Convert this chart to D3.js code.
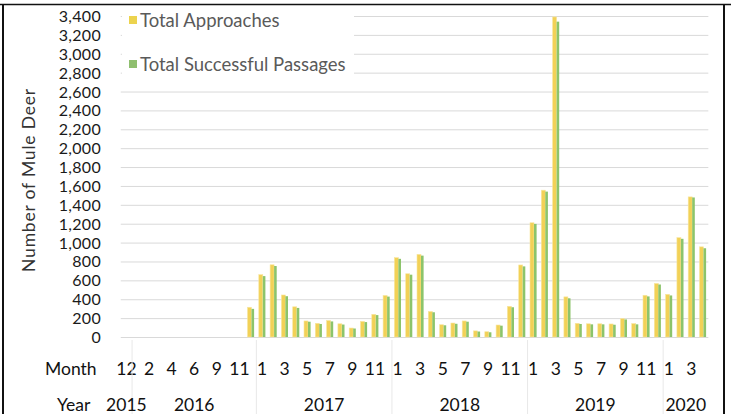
<!DOCTYPE html>
<html><head><meta charset="utf-8">
<script src="https://cdn.jsdelivr.net/npm/d3@7"></script>
<style>body{margin:0;background:#fff}svg{display:block}text{font-family:Lato,"Open Sans",sans-serif}</style>
</head><body><svg id="c" width="731" height="414"></svg>
<script>
// Categories: Dec 2015 .. Apr 2020 (Aug 2016 absent)
const monthLabels = ["12","1","2","3","4","5","6","7","9","10","11","12",
  "1","2","3","4","5","6","7","8","9","10","11","12",
  "1","2","3","4","5","6","7","8","9","10","11","12",
  "1","2","3","4","5","6","7","8","9","10","11","12",
  "1","2","3","4"];
const yearLabels = ["2015","2016","2017","2018","2019","2020"];
const yearCounts = [1, 11, 12, 12, 12, 4];
const approaches = [0,0,0,0,0,0,0,0,0,0,0,315,
  660,765,445,320,170,145,175,140,95,165,240,440,
  840,670,875,270,130,148,170,65,56,127,325,763,
  1210,1555,3390,425,145,140,140,138,195,142,442,567,
  452,1052,1484,955];
const passages = [0,0,0,0,0,0,0,0,0,0,0,298,
  645,752,432,308,162,138,165,132,90,158,232,428,
  828,660,862,262,124,140,162,58,50,120,315,748,
  1198,1540,3340,410,138,134,134,130,186,134,430,556,
  440,1040,1478,940];
const yTicks = d3.range(0, 3401, 200);

const svg = d3.select("#c");
const idx = d3.range(monthLabels.length);
const x = d3.scaleBand().domain(idx).range([120.75, 708.35]).padding(0);
const y = d3.scaleLinear().domain([0, 3400]).range([337, 16]);
const bw = x.bandwidth();
const cx = i => x(i) + bw / 2;

// frame
svg.append("line").attr("x1",0).attr("x2",731).attr("y1",4.5).attr("y2",4.5).attr("stroke","#111").attr("stroke-width",1.5);
svg.append("line").attr("x1",3).attr("x2",3).attr("y1",4).attr("y2",414).attr("stroke","#111").attr("stroke-width",2);
svg.append("line").attr("x1",724).attr("x2",724).attr("y1",4).attr("y2",414).attr("stroke","#111").attr("stroke-width",2);

// gridlines
svg.append("g").selectAll("line").data(yTicks).join("line")
  .attr("x1",120.75).attr("x2",708.35)
  .attr("y1",d=>y(d)+0.5).attr("y2",d=>y(d)+0.5)
  .attr("stroke","#d9d9d9").attr("stroke-width",1);

// y tick labels
svg.append("g").selectAll("text").data(yTicks).join("text")
  .attr("x",101).attr("y",d=>y(d)+6)
  .attr("text-anchor","end").attr("font-size",16).attr("fill","#1a1a1a")
  .style("letter-spacing","0.3px")
  .text(d=>d3.format(",")(d));

// y title
svg.append("text").attr("transform","translate(35,180) rotate(-90)")
  .attr("text-anchor","middle").attr("font-size",17.5).attr("fill","#333")
  .style("letter-spacing","0.8px")
  .text("Number of Mule Deer");

// bars
const gb = svg.append("g");
gb.selectAll("rect.a").data(approaches).join("rect").attr("class","a")
  .attr("x",(d,i)=>cx(i)-3.2).attr("width",4)
  .attr("y",d=>y(d)).attr("height",d=>337-y(d))
  .attr("fill","#f2d157").attr("stroke","#f7e6a0").attr("stroke-width",0.6);
gb.selectAll("rect.p").data(passages).join("rect").attr("class","p")
  .attr("x",(d,i)=>cx(i)+0.8).attr("width",2.6)
  .attr("y",d=>y(d)).attr("height",d=>337-y(d))
  .attr("fill","#8cc46b");

// legend
svg.append("rect").attr("x",122).attr("y",8).attr("width",232).attr("height",72).attr("fill","#fff");
const legend = [{t:"Total Approaches",c:"#ecd34e",y:27},{t:"Total Successful Passages",c:"#8fbf6f",y:71}];
legend.forEach(l=>{
  svg.append("rect").attr("x",129).attr("y",l.y-11).attr("width",8).attr("height",8).attr("fill",l.c);
  svg.append("text").attr("x",140).attr("y",l.y).attr("font-size",18.5).attr("fill","#5a5a5a").text(l.t);
});

// category axis: month labels
svg.append("text").attr("x",45).attr("y",375).attr("font-size",17.5).attr("fill","#111").text("Month");
svg.append("g").selectAll("text").data(idx.filter(i=>i%2===0)).join("text")
  .attr("x",i=>cx(i)).attr("y",375).attr("text-anchor","middle")
  .attr("font-size",17.5).attr("fill","#111").text(i=>monthLabels[i]);

// year groups
svg.append("text").attr("x",57).attr("y",411).attr("font-size",17.5).attr("fill","#111").text("Year");
let start = 0;
const groups = yearLabels.map((yl,k)=>{const g={yl,s:start,e:start+yearCounts[k]-1}; start+=yearCounts[k]; return g;});
svg.append("g").selectAll("line").data(groups.slice(1)).join("line")
  .attr("x1",g=>x(g.s)).attr("x2",g=>x(g.s)).attr("y1",340).attr("y2",414)
  .attr("stroke","#e8e8e8").attr("stroke-width",1);
svg.append("g").selectAll("text").data(groups).join("text")
  .attr("x",g=>(x(g.s)+x(g.e)+bw)/2).attr("y",411).attr("text-anchor","middle")
  .attr("font-size",17.5).attr("fill","#111").text(g=>g.yl);
</script></body></html>
